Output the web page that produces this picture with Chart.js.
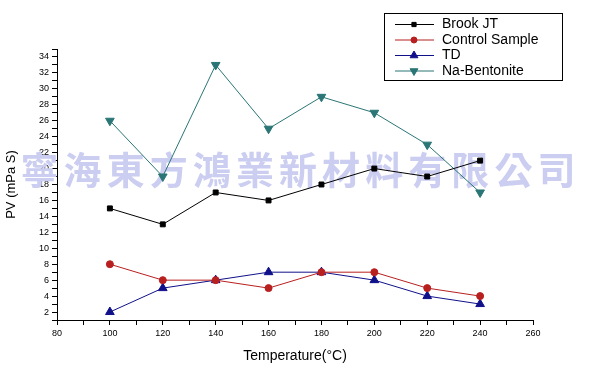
<!DOCTYPE html>
<html>
<head>
<meta charset="utf-8">
<script src="https://cdn.jsdelivr.net/npm/chart.js@4"></script>
<style>
  html, body { margin: 0; padding: 0; background: #fff; }
  #wrap { width: 590px; height: 379px; }
</style>
</head>
<body>
<div id="wrap"><canvas id="grafico"></canvas></div>
<script>
// datos
const temperaturas = [100, 120, 140, 160, 180, 200, 220, 240];
const brookJT = [15, 13, 17, 16, 18, 20, 19, 21];
const controlSample = [8, 6, 6, 5, 7, 7, 5, 4];
const td = [2, 5, 6, 7, 7, 6, 4, 3];
const naBentonite = [26, 19, 33, 25, 29, 27, 23, 17];
const nombres = ["Brook JT", "Control Sample", "TD", "Na-Bentonite"];
const marcaAgua = "寧海東方鴻業新材料有限公司";

const fuente = "'Liberation Sans', Arial, sans-serif";

function serie(nombre, valores, color, estilo, rot, radio) {
  return {
    label: nombre,
    data: temperaturas.map((t, i) => ({ x: t, y: valores[i] })),
    borderColor: color,
    backgroundColor: color,
    borderWidth: 1,
    pointStyle: estilo,
    rotation: rot,
    pointRadius: radio,
    pointBorderWidth: 1,
    tension: 0
  };
}

// marca de agua detras de las lineas
const marca = {
  id: "marca",
  beforeDatasetsDraw(chart) {
    const ctx = chart.ctx;
    ctx.save();
    ctx.font = "bold 38px 'Noto Sans CJK TC', sans-serif";
    ctx.fillStyle = "#cbcdf1";
    ctx.textBaseline = "middle";
    ctx.textAlign = "center";
    const ancho = 560 / marcaAgua.length;
    for (let i = 0; i < marcaAgua.length; i++) {
      ctx.fillText(marcaAgua[i], 18 + ancho * (i + 0.5), 170);
    }
    ctx.restore();
  }
};

// leyenda con recuadro
const leyenda = {
  id: "leyenda",
  afterDraw(chart) {
    const ctx = chart.ctx;
    ctx.save();
    ctx.strokeStyle = "#000";
    ctx.lineWidth = 1;
    ctx.strokeRect(384.5, 13.5, 178, 67);
    ctx.font = "14px " + fuente;
    ctx.textBaseline = "middle";
    chart.data.datasets.forEach((ds, i) => {
      const y = 24.5 + i * 15.5;
      ctx.strokeStyle = ds.borderColor;
      ctx.fillStyle = ds.backgroundColor;
      ctx.beginPath();
      ctx.moveTo(395, y);
      ctx.lineTo(434, y);
      ctx.stroke();
      Chart.helpers.drawPoint(ctx, {
        pointStyle: ds.pointStyle,
        rotation: ds.rotation,
        radius: ds.pointRadius - 0.5,
        borderWidth: 1
      }, 414, y);
      ctx.fillStyle = "#000";
      ctx.fillText(ds.label, 442, y);
    });
    ctx.restore();
  }
};

new Chart(document.getElementById("grafico"), {
  type: "line",
  data: {
    datasets: [
      serie(nombres[0], brookJT, "#000000", "rect", 0, 3.5),
      serie(nombres[1], controlSample, "#b81f1f", "circle", 0, 3.5),
      serie(nombres[2], td, "#10108a", "triangle", 0, 5),
      serie(nombres[3], naBentonite, "#2a7575", "triangle", 180, 5)
    ]
  },
  options: {
    responsive: true,
    maintainAspectRatio: false,
    animation: false,
    layout: { padding: { top: 49, right: 57, left: 0, bottom: 0 } },
    plugins: { legend: { display: false }, tooltip: { enabled: false } },
    scales: {
      x: {
        type: "linear",
        min: 80,
        max: 260,
        afterFit: s => { s.height = 59; },
        ticks: {
          stepSize: 10,
          autoSkip: false,
          maxRotation: 0,
          padding: 3,
          color: "#000",
          font: { family: fuente, size: 9 },
          callback: v => (v % 20 === 0 ? String(v) : "")
        },
        grid: { drawOnChartArea: false, tickLength: 5, color: "#000" },
        border: { color: "#000", width: 1 },
        title: { display: true, text: "Temperature(°C)", color: "#000", font: { family: fuente, size: 14 }, padding: { top: 2, bottom: 14 } }
      },
      y: {
        min: 1,
        max: 35,
        afterFit: s => { s.width = 57; },
        ticks: {
          stepSize: 1,
          autoSkip: false,
          padding: 3,
          color: "#000",
          font: { family: fuente, size: 9 },
          callback: v => (v % 2 === 0 ? String(v) : "")
        },
        grid: { drawOnChartArea: false, tickLength: 5, color: "#000" },
        border: { color: "#000", width: 1 },
        title: { display: true, text: "PV (mPa S)", color: "#000", font: { family: fuente, size: 13 }, padding: { bottom: 0 } }
      }
    }
  },
  plugins: [marca, leyenda]
});
</script>
</body>
</html>
